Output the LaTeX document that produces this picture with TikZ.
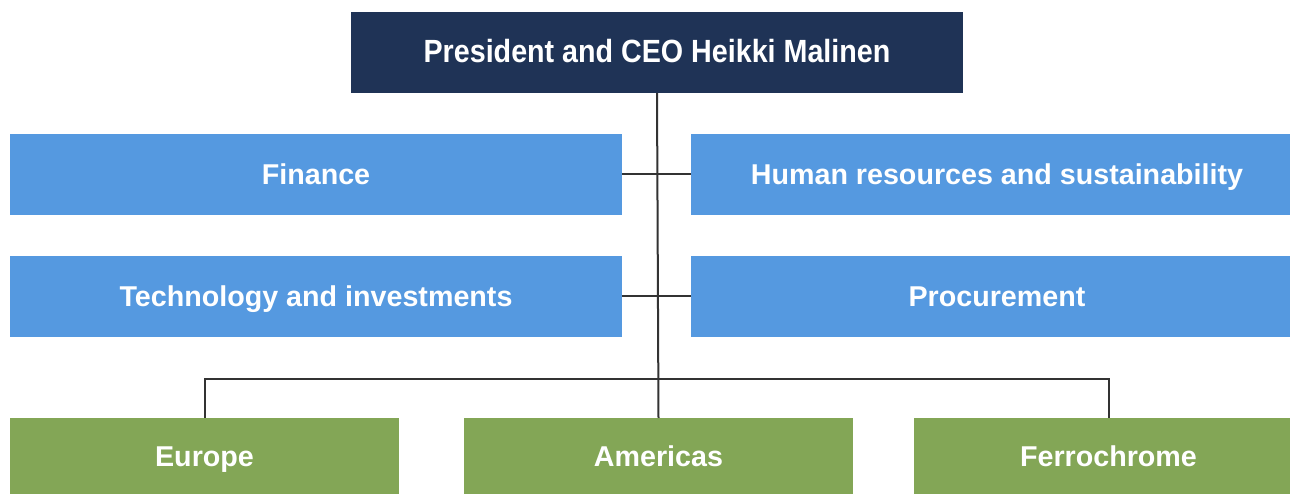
\documentclass[tikz,border=0pt]{standalone}
\usepackage{fontspec}
\setmainfont{Liberation Sans}
\definecolor{navy}{HTML}{1F3356}
\definecolor{bluebox}{HTML}{5599E0}
\definecolor{greenbox}{HTML}{83A656}
\definecolor{linec}{HTML}{333333}
\begin{document}
\begin{tikzpicture}[x=0.75pt,y=-0.75pt,
  box/.style={anchor=north west,inner sep=0pt,outer sep=0pt,text=white,font=\bfseries\fontsize{21.5}{24}\selectfont,align=center,text height=15.5pt,text depth=0pt},
  wide/.style={minimum width=612*0.75pt,minimum height=81*0.75pt},
  lower/.style={minimum width=389*0.75pt,minimum height=76*0.75pt},
  conn/.style={draw=linec,line width=1.5pt}]
\useasboundingbox (0,0) rectangle (1290,495);
\clip (0,0) rectangle (1290,495);
\node[box,wide,fill=navy] (ceo) at (351,12) {\raisebox{0pt}[17pt][0pt]{\scalebox{1}[1.12]{President and CEO Heikki Malinen}}};
\node[box,wide,fill=bluebox] (fin) at (10,134) {Finance};
\node[box,wide,fill=bluebox] (hr) at (691,134) {Human resources and sustainability};
\node[box,wide,fill=bluebox] (tech) at (10,256) {Technology and investments};
\node[box,wide,fill=bluebox] (proc) at (691,256) {Procurement};
\node[box,lower,fill=greenbox] (eu) at (10,418) {Europe};
\node[box,lower,fill=greenbox] (am) at (464,418) {Americas};
\node[box,lower,fill=greenbox] (fe) at (914,418) {Ferrochrome};
\coordinate (j) at (658,379);
\draw[conn] (ceo.south) -- (am.north);
\draw[conn] (fin.east) -- (hr.west);
\draw[conn] (tech.east) -- (proc.west);
\draw[conn] (eu.north) |- (j) -| (fe.north);
\end{tikzpicture}
\end{document}
